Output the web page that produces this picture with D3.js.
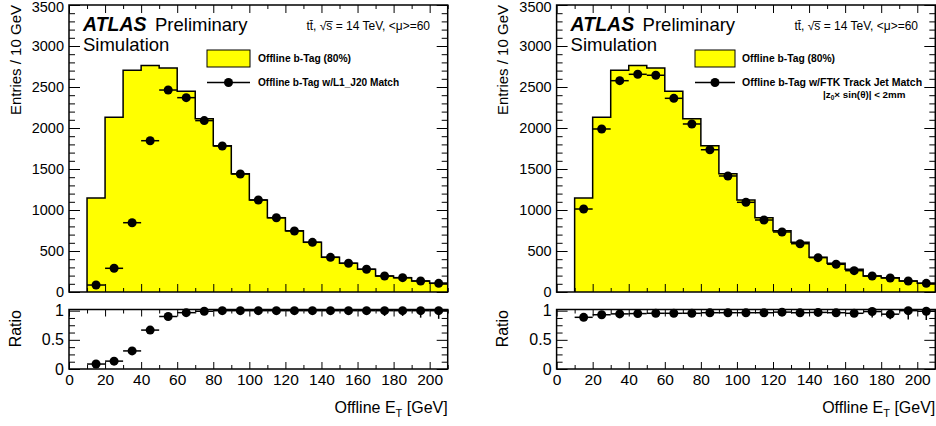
<!DOCTYPE html>
<html>
<head>
<meta charset="utf-8">
<script src="https://cdn.jsdelivr.net/npm/d3@7"></script>
<style>
  body { margin: 0; background: #fff; }
  text { font-family: "Liberation Sans", Arial, Helvetica, sans-serif; }
</style>
</head>
<body>
<svg id="chart" width="936" height="426"></svg>
<script>
// bin lower edges (GeV), each bin is 10 GeV wide
const binLow = [10, 20, 30, 40, 50, 60, 70, 80, 90, 100, 110, 120, 130, 140, 150, 160, 170, 180, 190, 200];

// offline b-tag (80%) histogram, entries / 10 GeV
const offline = [1145, 2132, 2705, 2762, 2732, 2447, 2114, 1784, 1443, 1122, 906, 748, 606, 423, 350, 277, 195, 175, 134, 106];

// matched points
const l1Match = [85, 289, 845, 1845, 2463, 2370, 2090, 1780, 1439, 1122, 906, 744, 606, 423, 350, 277, 195, 175, 134, 106];
const ftkMatch = [1012, 1988, 2577, 2655, 2643, 2362, 2049, 1735, 1415, 1094, 878, 732, 589, 419, 338, 260, 195, 171, 134, 106];

// ratio panels
const l1Ratio = [0.085, 0.135, 0.31, 0.667, 0.9, 0.966, 0.99, 1.0, 1.0, 1.0, 1.0, 1.0, 1.0, 1.0, 1.0, 1.0, 1.0, 1.0, 1.0, 1.0];
const l1RatioErr = [0.01, 0.01, 0.01, 0.01, 0.01, 0.01, 0.01, 0.01, 0.01, 0.015, 0.02, 0.02, 0.03, 0.04, 0.05, 0.07, 0.09, 0.09, 0.12, 0.14];
const ftkRatio = [0.886, 0.93, 0.945, 0.95, 0.955, 0.955, 0.955, 0.965, 0.965, 0.965, 0.965, 0.975, 0.965, 0.97, 0.965, 0.955, 0.985, 0.94, 1.0, 0.99];
const ftkRatioErr = [0.01, 0.01, 0.01, 0.01, 0.01, 0.01, 0.01, 0.01, 0.015, 0.015, 0.02, 0.02, 0.03, 0.04, 0.05, 0.06, 0.1, 0.085, 0.15, 0.15];

// tick values
const xMajor = [0, 20, 40, 60, 80, 100, 120, 140, 160, 180, 200];
const xMinor = [10, 30, 50, 70, 90, 110, 130, 150, 170, 190, 210];
const yMajor = [0, 500, 1000, 1500, 2000, 2500, 3000, 3500];
const yMinor = d3.range(0, 3501, 100);
const rMajor = [0, 0.5, 1];
const rMinor = [0.125, 0.25, 0.375, 0.625, 0.75, 0.875];

const svg = d3.select("#chart");
const font = '"Liberation Sans", Arial, Helvetica, sans-serif';

function tickAxis(g, axis, size) {
    g.call(axis);
    g.select(".domain").remove();
    g.attr("font-family", font).attr("font-size", size || 14);
    g.selectAll("line").attr("stroke", "#000").attr("stroke-width", 1);
    g.selectAll("text").attr("fill", "#000");
    return g;
}

function drawPanel(x0, match, ratio, ratioErr, opt) {
    const W = 378.7;
    const x = d3.scaleLinear().domain([0, 210]).range([x0, x0 + W]);
    const y = d3.scaleLinear().domain([0, 3500]).range([292, 5]);
    const yr = d3.scaleLinear().domain([0, 1.02]).range([369, 309.5]);

    const g = svg.append("g");

    // ---- main pad ----
    const area = d3.area()
        .x(d => x(d[0])).y0(y(0)).y1(d => y(d[1]))
        .curve(d3.curveStepAfter);
    const pts = binLow.map((b, i) => [b, offline[i]]);
    pts.push([210, offline[offline.length - 1]]);
    g.append("path").attr("d", area(pts)).attr("fill", "#ffff00");

    const outline = d3.line().x(d => x(d[0])).y(d => y(d[1])).curve(d3.curveStepAfter);
    g.append("path")
        .attr("d", outline([[10, 0]].concat(pts)))
        .attr("fill", "none").attr("stroke", "#000").attr("stroke-width", 1.5);

    // points with horizontal bin-width bars
    const pg = g.append("g");
    pg.selectAll("line").data(binLow).enter().append("line")
        .attr("x1", d => x(d)).attr("x2", d => x(d + 10))
        .attr("y1", (d, i) => y(match[i])).attr("y2", (d, i) => y(match[i]))
        .attr("stroke", "#000").attr("stroke-width", 1.5);
    pg.selectAll("circle").data(binLow).enter().append("circle")
        .attr("cx", d => x(d + 5)).attr("cy", (d, i) => y(match[i]))
        .attr("r", 4.5).attr("fill", "#000");

    // ticks
    const yl = tickAxis(g.append("g").attr("transform", `translate(${x0},0)`),
        d3.axisLeft(y).tickValues(yMajor).tickSize(-11).tickPadding(5).tickFormat(d3.format("d")), 14.5);
    yl.selectAll(".tick").filter(d => d === 3500).select("text").attr("dy", "0.45em");
    tickAxis(g.append("g").attr("transform", `translate(${x0},0)`),
        d3.axisLeft(y).tickValues(yMinor).tickSize(-6).tickFormat(""));
    tickAxis(g.append("g").attr("transform", `translate(${x0 + W},0)`),
        d3.axisRight(y).tickValues(yMajor).tickSize(-11).tickFormat(""));
    tickAxis(g.append("g").attr("transform", `translate(${x0 + W},0)`),
        d3.axisRight(y).tickValues(yMinor).tickSize(-6).tickFormat(""));
    tickAxis(g.append("g").attr("transform", `translate(0,${y(0)})`),
        d3.axisBottom(x).tickValues(xMajor).tickSize(-8).tickFormat(""));
    tickAxis(g.append("g").attr("transform", `translate(0,${y(0)})`),
        d3.axisBottom(x).tickValues(xMinor).tickSize(-4).tickFormat(""));
    tickAxis(g.append("g").attr("transform", `translate(0,${y(3500)})`),
        d3.axisTop(x).tickValues(xMajor).tickSize(-8).tickFormat(""));
    tickAxis(g.append("g").attr("transform", `translate(0,${y(3500)})`),
        d3.axisTop(x).tickValues(xMinor).tickSize(-4).tickFormat(""));

    g.append("rect")
        .attr("x", x0).attr("y", y(3500)).attr("width", W).attr("height", y(0) - y(3500))
        .attr("fill", "none").attr("stroke", "#000").attr("stroke-width", 1.5);

    g.append("text")
        .attr("transform", `translate(${x0 - 48.5},${y(3500)}) rotate(-90)`)
        .attr("text-anchor", "end").attr("font-size", 15)
        .text("Entries / 10 GeV");

    // ATLAS label
    g.append("text").attr("x", x0 + 14).attr("y", 31)
        .attr("font-size", 19.5).attr("font-weight", "bold").attr("font-style", "italic")
        .text("ATLAS");
    g.append("text").attr("x", x0 + 86).attr("y", 31).attr("font-size", 18.5).text("Preliminary");
    g.append("text").attr("x", x0 + 14).attr("y", 51).attr("font-size", 18.5).text("Simulation");

    g.append("text").attr("x", opt.energyX).attr("y", 30)
        .attr("text-anchor", "end").attr("font-size", 12)
        .text("tt\u0304, \u221As\u0305 = 14 TeV, <\u03BC>=60");

    // legend
    const lg = g.append("g");
    lg.append("rect").attr("x", opt.boxX).attr("y", 50).attr("width", opt.boxW).attr("height", 17)
        .attr("fill", "#ffff00").attr("stroke", "#000").attr("stroke-width", 1);
    lg.append("text").attr("x", opt.textX).attr("y", 62)
        .attr("font-size", 10.3).attr("font-weight", "bold").text("Offline b-Tag (80%)");
    lg.append("line").attr("x1", opt.boxX).attr("x2", opt.boxX + opt.boxW).attr("y1", 82.5).attr("y2", 82.5)
        .attr("stroke", "#000").attr("stroke-width", 1.5);
    lg.append("circle").attr("cx", opt.boxX + opt.boxW / 2).attr("cy", 82.5).attr("r", 4.5).attr("fill", "#000");
    lg.append("text").attr("x", opt.textX).attr("y", 86)
        .attr("font-size", opt.labelSize).attr("font-weight", "bold").text(opt.label);
    if (opt.extra) {
        const t = lg.append("text").attr("x", opt.extraX).attr("y", 97.5)
            .attr("font-size", 9.8).attr("font-weight", "bold");
        t.append("tspan").text("|z");
        t.append("tspan").attr("dy", 2.5).attr("font-size", 6.5).text("0");
        t.append("tspan").attr("dy", -2.5).text("\u00D7 sin(\u03B8)| < 2mm");
    }

    // ---- ratio pad ----
    const rg = g.append("g");
    rg.selectAll("line.h").data(binLow).enter().append("line").attr("class", "h")
        .attr("x1", d => x(d)).attr("x2", d => x(d + 10))
        .attr("y1", (d, i) => yr(ratio[i])).attr("y2", (d, i) => yr(ratio[i]))
        .attr("stroke", "#000").attr("stroke-width", 1.5);
    rg.selectAll("line.v").data(binLow).enter().append("line").attr("class", "v")
        .attr("x1", d => x(d + 5)).attr("x2", d => x(d + 5))
        .attr("y1", (d, i) => yr(Math.min(1.02, ratio[i] + ratioErr[i])))
        .attr("y2", (d, i) => yr(ratio[i] - ratioErr[i]))
        .attr("stroke", "#000").attr("stroke-width", 1.5);
    rg.selectAll("circle").data(binLow).enter().append("circle")
        .attr("cx", d => x(d + 5)).attr("cy", (d, i) => yr(ratio[i]))
        .attr("r", 4.5).attr("fill", "#000");

    tickAxis(g.append("g").attr("transform", `translate(${x0},0)`),
        d3.axisLeft(yr).tickValues(rMajor).tickSize(-11).tickPadding(5)
            .tickFormat(d => d === 0.5 ? "0.5" : d3.format("d")(d)), 16);
    tickAxis(g.append("g").attr("transform", `translate(${x0},0)`),
        d3.axisLeft(yr).tickValues(rMinor).tickSize(-6).tickFormat(""));
    tickAxis(g.append("g").attr("transform", `translate(${x0 + W},0)`),
        d3.axisRight(yr).tickValues(rMajor).tickSize(-11).tickFormat(""));
    tickAxis(g.append("g").attr("transform", `translate(${x0 + W},0)`),
        d3.axisRight(yr).tickValues(rMinor).tickSize(-6).tickFormat(""));
    tickAxis(g.append("g").attr("transform", `translate(0,369)`),
        d3.axisBottom(x).tickValues(xMajor).tickSize(-7).tickPadding(5).tickFormat(d3.format("d")), 15.5);
    tickAxis(g.append("g").attr("transform", `translate(0,369)`),
        d3.axisBottom(x).tickValues(xMinor).tickSize(-4).tickFormat(""));
    tickAxis(g.append("g").attr("transform", `translate(0,309.5)`),
        d3.axisTop(x).tickValues(xMajor).tickSize(-7).tickFormat(""));
    tickAxis(g.append("g").attr("transform", `translate(0,309.5)`),
        d3.axisTop(x).tickValues(xMinor).tickSize(-4).tickFormat(""));

    g.append("rect")
        .attr("x", x0).attr("y", 309.5).attr("width", W).attr("height", 369 - 309.5)
        .attr("fill", "none").attr("stroke", "#000").attr("stroke-width", 1.5);

    g.append("text")
        .attr("transform", `translate(${x0 - 48.5},310) rotate(-90)`)
        .attr("text-anchor", "end").attr("font-size", 16)
        .text("Ratio");

    const xt = g.append("text").attr("x", x0 + W).attr("y", 413)
        .attr("text-anchor", "end").attr("font-size", 16);
    xt.append("tspan").text("Offline E");
    xt.append("tspan").attr("dy", 3.5).attr("font-size", 11).text("T");
    xt.append("tspan").attr("dy", -3.5).text(" [GeV]");
}

drawPanel(69, l1Match, l1Ratio, l1RatioErr, {
    energyX: 430, boxX: 207, boxW: 43, textX: 258, labelSize: 10.1,
    label: "Offline b-Tag w/L1_J20 Match"
});
drawPanel(556.6, ftkMatch, ftkRatio, ftkRatioErr, {
    energyX: 918, boxX: 695, boxW: 40, textX: 742, labelSize: 10.5,
    label: "Offline b-Tag w/FTK Track Jet Match",
    extra: true, extraX: 823
});
</script>
</body>
</html>
